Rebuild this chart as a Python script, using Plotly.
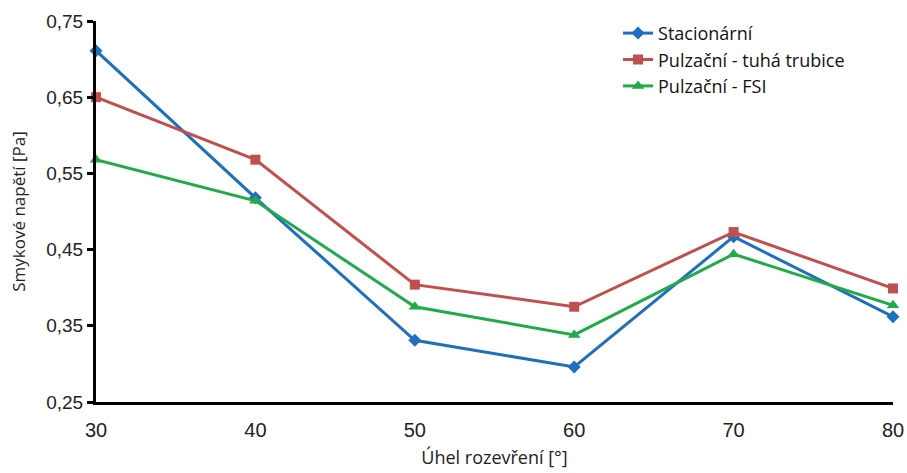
import plotly.graph_objects as go

uhel = [30, 40, 50, 60, 70, 80]
stacionarni = [0.711, 0.518, 0.331, 0.296, 0.467, 0.362]
pulzacni_tuha = [0.650, 0.568, 0.404, 0.375, 0.473, 0.399]
pulzacni_fsi = [0.568, 0.514, 0.375, 0.338, 0.444, 0.377]

y_ticks = [0.25, 0.35, 0.45, 0.55, 0.65, 0.75]
y_ticktext = ["0,25", "0,35", "0,45", "0,55", "0,65", "0,75"]

series = [
    ("Stacionární", stacionarni, "#1f6fbf", "diamond", 10),
    ("Pulzační - tuhá trubice", pulzacni_tuha, "#c0504d", "square", 10),
    ("Pulzační - FSI", pulzacni_fsi, "#22aa4a", "triangle-up", 11),
]

fig = go.Figure()
for name, vals, color, sym, size in series:
    fig.add_trace(go.Scatter(
        x=uhel, y=vals, name=name, mode="lines+markers",
        line=dict(color=color, width=3),
        marker=dict(symbol=sym, size=size, color=color),
        cliponaxis=False,
    ))

fig.update_layout(
    width=907, height=473,
    margin=dict(l=96, r=14, t=21, b=71, autoexpand=False),
    plot_bgcolor="white", paper_bgcolor="white",
    font=dict(family="Liberation Sans, Arial, sans-serif", color="#222"),
    showlegend=True,
    legend=dict(
        x=0.655, y=1.016, xanchor="left", yanchor="top",
        font=dict(size=18, family="Open Sans, sans-serif", color="#111"),
        bgcolor="rgba(0,0,0,0)", tracegroupgap=2, itemwidth=30,
    ),
    xaxis=dict(
        range=[30, 80], tickvals=uhel, showgrid=False, zeroline=False, automargin=False,
        showline=True, linecolor="black", linewidth=3, ticks="",
        tickfont=dict(size=20, color="#222"), ticklabelstandoff=8,
        title=dict(text="Úhel rozevření [°]", font=dict(size=18, family="Open Sans, sans-serif", color="#222"), standoff=12),
    ),
    yaxis=dict(
        range=[0.25, 0.75], tickvals=y_ticks, ticktext=y_ticktext, showgrid=False, zeroline=False, automargin=False,
        showline=True, linecolor="black", linewidth=3, ticks="outside", ticklen=6, tickwidth=3, tickcolor="black",
        tickfont=dict(size=19, color="#222"),
        title=dict(text="Smykové napětí [Pa]", font=dict(size=17, family="Open Sans, sans-serif", color="#222"), standoff=17),
    ),
)

fig.write_html("out.html", config={"displayModeBar": False},
               post_script="document.body.style.margin='0';")
